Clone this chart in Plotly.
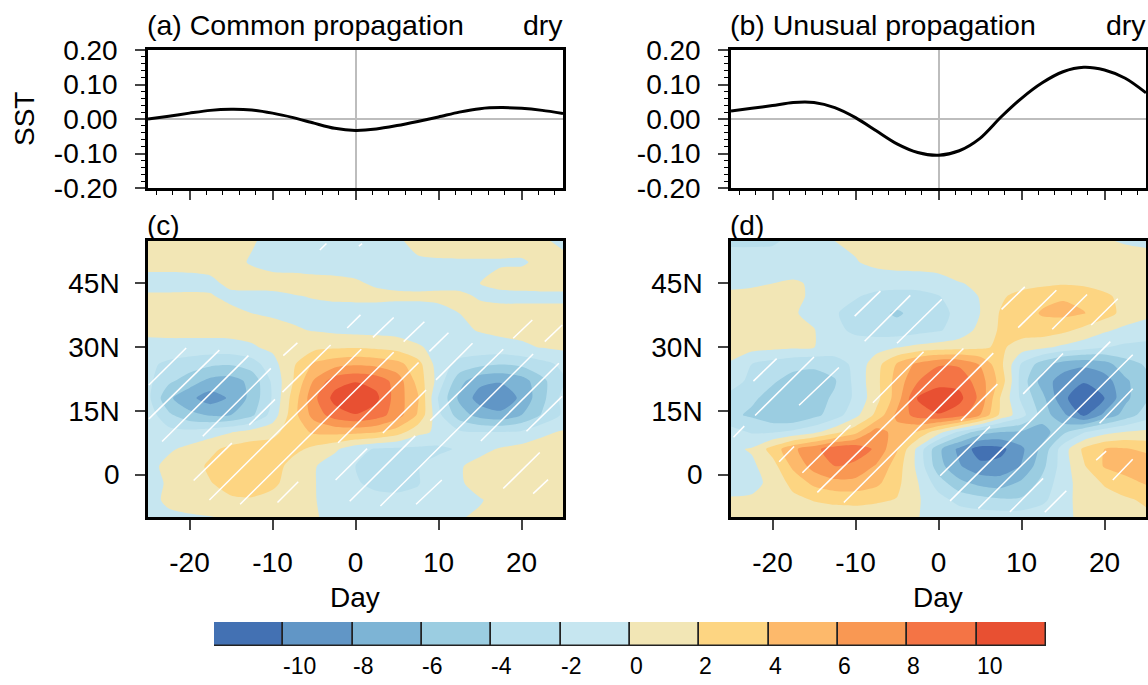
import plotly.graph_objects as go

W, H = 1148, 685
days = [-25+2.5*i for i in range(21)]
lats = [55, 50, 45, 42, 38, 34, 30, 26, 22, 18, 14, 10, 6, 2, -2, -6, -10]

sst_a = [0, .008, .017, .025, .028, .026, .017, .004, -.012, -.027, -.033, -.029, -.019, -.007, .006, .02, .03, .033, .031, .025, .016]
sst_b = [.023, .031, .039, .048, .048, .033, .004, -.034, -.072, -.097, -.105, -.092, -.056, .005, .06, .105, .137, .15, .142, .118, .076]

field_c = [
 [0.6,0.6,0.6,0.6,0.5,0.1,-0.3,-0.4,-0.5,-0.5,-0.4,-0.3,-0.1,0.2,0.4,0.5,0.5,0.5,0.4,0.2,-0.3],
 [0.6,0.6,0.6,0.5,0.3,-0.1,-0.5,-0.6,-0.7,-0.7,-0.7,-0.5,-0.3,-0.1,-0.1,-0.1,-0.1,-0.1,-0.1,0.2,0.4],
 [-0.7,-0.7,-0.6,-0.3,0.3,0.5,0.6,0.6,0.5,0.4,0.2,-0.2,-0.4,-0.5,-0.4,-0.3,0.0,0.3,0.4,0.5,0.5],
 [0.3,0.3,0.3,0.1,-0.3,-0.4,-0.4,-0.1,0.1,0.3,0.4,0.4,0.3,0.3,0.3,0.2,-0.1,-0.3,-0.3,-0.3,-0.3],
 [0.7,0.7,0.6,0.5,0.3,0.0,-0.2,-0.4,-0.5,-0.6,-0.7,-0.7,-0.7,-0.7,-0.4,0.0,0.3,0.4,0.4,0.4,0.4],
 [0.5,0.7,0.7,0.7,0.7,0.6,0.5,0.2,-0.1,-0.4,-0.6,-0.7,-0.8,-0.8,-0.7,-0.3,0.1,0.4,0.5,0.5,0.5],
 [-0.7,-0.8,-0.8,-0.8,-0.7,-0.2,0.4,0.9,1.4,1.7,1.8,1.6,1.2,0.2,-0.5,-0.8,-0.7,-0.6,-0.3,0.1,0.4],
 [-1.6,-2.4,-3.0,-3.6,-3.8,-3.0,-0.7,1.7,4.3,5.2,5.7,5.4,4.7,2.8,-1.0,-2.6,-3.4,-3.9,-3.5,-2.6,-1.6],
 [-1.5,-3.6,-5,-6.6,-6.9,-5.4,-1.6,2,6.2,9.2,9.9,9.3,7.2,3.3,-0.8,-5.3,-7.5,-7.8,-7.0,-4.5,-2.3],
 [-1.5,-5.6,-7.5,-9,-7.7,-5.4,-1.8,2.8,7.5,10.7,11.5,10.5,7,4.3,-2.2,-6.4,-8.9,-9.7,-7.5,-4.6,-1.4],
 [-0.8,-3.6,-5.4,-6.2,-6.0,-4.4,-1.2,3.2,6.8,9,9.9,9,7,3.8,-1.5,-5,-6.8,-7.4,-6,-3.8,-1.7],
 [-0.5,-1.3,-1.4,-0.9,-0.1,0.8,1.4,3,4.3,4.6,4.6,4.2,3,0.6,-0.4,-1.7,-2,-2,-1.7,-0.4,0.2],
 [-0.8,-0.3,0.5,1.5,2.6,3,3,2.6,1.5,0.4,-1.3,-2.2,-2.4,-2.4,-2.4,-1.8,-0.6,0.2,0.7,0.9,1],
 [-0.7,0.6,1,2.4,3.2,3.4,3,1.2,0.2,-1.2,-2,-2.6,-2.7,-2.1,-1.2,-0.2,0.7,0.9,1,1,1],
 [-0.6,0.2,1,1.9,2.8,3,2.4,1.2,0.1,-0.9,-1.8,-2.5,-2.5,-2.1,-1.2,-0.2,0.6,0.8,0.9,0.9,0.9],
 [-0.5,0.3,0.8,1.2,1.7,1.8,1.4,0.8,0.1,-0.7,-1.1,-1.4,-1.6,-1.6,-1.4,-0.9,-0.1,0.5,0.7,0.8,0.8],
 [-0.4,-0.3,-0.2,-0.05,0.2,0.3,0.3,0.25,0.1,-0.3,-0.6,-0.7,-0.8,-0.7,-0.5,-0.1,0.2,0.3,0.3,0.2,0.1],
]

field_d = [
 [-2.4,-2.4,-2.3,-1.5,-0.7,0.0,0.3,0.6,0.7,0.7,0.7,0.7,0.7,0.7,0.7,0.7,0.6,0.5,0.2,-0.2,-0.5],
 [-1,-1,-1,-0.9,-0.8,-0.5,-0.1,0.4,0.8,0.9,1,1.1,1.1,1,1,1.1,1.1,1,1,1,1],
 [-0.5,-0.3,0.0,0.2,-0.2,-0.4,-0.7,-1,-1.2,-1.2,-0.9,-0.1,0.3,0.6,1,1.5,1.8,1.6,1,0.6,0.5],
 [0.5,0.6,0.6,0.4,-0.3,-0.8,-1.8,-2.6,-2.8,-2.7,-2.1,-1,0.1,1.6,2.9,3.4,3.8,3.4,2.5,1.2,0.7],
 [0.7,0.8,0.7,0.2,-0.6,-1.8,-2.8,-3.4,-4.3,-3.3,-2.6,-1.5,0.0,2.2,3.1,4.2,4.5,4.1,2.9,1.3,0.5],
 [0.9,0.9,0.8,0.5,0.1,-1.5,-2.4,-2.8,-3.1,-2.7,-2.2,-1.2,0.6,2.3,3,3.1,2.5,1.4,0.3,-0.5,-0.9],
 [0.8,0.7,0.5,0.3,0.05,-0.8,-1,-0.8,-0.1,0.5,0.9,1.2,1.6,2.4,1.0,0.4,-0.4,-1.1,-1.9,-2.4,-2.6],
 [-0.2,-2,-2.8,-3.5,-3.6,-3,-1.5,1.2,4.2,6.5,7.8,7.7,5.9,2.5,-2.2,-5,-7,-7.6,-6.8,-4.8,-3.8],
 [-1,-2.6,-3.8,-4.6,-4.9,-4.2,-1.4,1.4,4.8,7.9,9.4,9.3,7,3.2,-2.8,-6.9,-9,-9.8,-9,-6.4,-4.5],
 [-2.8,-3.7,-4.6,-5.2,-4.8,-3.7,-1.6,1.3,5,10.2,11,10.6,7.5,1.8,-2.4,-5.4,-9.5,-11.6,-10,-6.5,-4.4],
 [-3.6,-4.3,-5.6,-6,-4.6,-3,-0.6,2.5,6.5,8.9,9.9,8.9,6,1.5,-1.2,-4.9,-7.5,-10.4,-7.5,-5.2,-3],
 [-1.2,-2.2,-2.2,-1.5,-0.5,1.3,3.4,7,5.2,3.8,0.8,-2.4,-5,-6,-6.3,-7,-4.5,-2.2,-0.7,0.1,0.4],
 [-0.4,0.2,2.8,5.6,7.4,9.2,9.4,7.6,4.2,-0.5,-5.5,-8.5,-11,-10.6,-8.4,-5.5,-1,2.4,4,4.2,3.5],
 [-0.8,-0.4,1.2,4.5,6.8,8,7.4,5.8,3,-0.5,-5.2,-7.8,-9.5,-9.3,-7.9,-4.6,-1,1.8,4.2,5,5.6],
 [-0.8,-0.8,0.7,2.6,4.5,5.4,5.4,4.5,2.5,0.1,-3,-5.4,-6.6,-7,-5.6,-3.4,-0.8,0.9,2.2,3.2,4.2],
 [0.2,0.4,1,1.5,2.1,2.4,2.5,2.3,1.9,0.2,-1.2,-2.6,-3.2,-3.7,-3.7,-2.5,-0.6,0.7,1.2,1.7,2.3],
 [0.5,0.6,0.7,0.8,0.9,1,1,0.8,0.4,0.05,-0.6,-0.9,-1,-1,-0.9,-0.7,-0.3,0.3,0.6,0.9,1.6],
]

hatch_c = [
 (-24.9,21.1,-20.4,29.8),(-24.9,13.1,-16.4,29.3),(-23.3,7.8,-12.9,28.0),(-18.4,9.0,-10.2,25.0),
 (-12.8,11.7,-9.7,17.7),(-19.5,-1.4,-14.9,7.4),(-17.6,-6.0,0.7,29.5),(-13.9,-7.0,4.6,28.8),
 (-9.4,-6.6,-6.9,-1.7),(-8.8,19.4,-3.0,30.5),(-8.7,28.0,-7.0,31.0),(-2.1,7.5,7.6,26.4),
 (3.3,9.8,8.5,19.9),(-2.4,-1.3,1.4,6.1),(-0.7,-6.3,7.2,9.1),(3.0,-7.4,21.4,28.4),
 (9.0,12.7,17.8,29.5),(15.1,7.9,24.5,26.2),(20.6,10.2,24.9,18.4),(9.7,22.3,14.1,30.9),
 (8.9,29.0,11.2,33.4),(5.8,31.3,8.3,36.0),(2.1,32.3,4.6,37.0),(-1.0,34.5,0.6,37.6),
 (19.0,32.1,21.3,36.4),(22.8,31.3,24.9,35.2),(7.3,-7.0,10.4,-1.3),(17.8,-3.3,22.2,5.2),
 (21.4,-4.5,23.2,-1.2),(-4.3,52.9,-3.5,54.4),(0.4,53.8,0.8,54.4),
]
hatch_d = [
 (-22.3,22.0,-19.5,27.3),(-22.1,13.9,-15.0,27.7),(-16.8,16.3,-12.0,25.2),(-24.7,8.8,-23.4,11.4),
 (-19.2,3.0,-17.4,6.6),(-16.4,0.4,-10.6,11.6),(-14.6,-4.2,3.0,29.7),(-11.4,-6.6,6.6,28.6),
 (-7.9,16.9,-1.8,28.9),(2.7,12.7,7.1,21.3),(-10.1,37.3,-7.0,43.2),(-8.9,31.4,-3.4,42.2),
 (-5.0,30.9,0.4,41.3),(7.6,38.9,10.4,44.2),(9.6,34.6,14.2,43.4),(13.7,34.2,17.9,42.4),
 (18.4,35.2,21.6,41.4),(10.2,19.0,15.0,28.5),(0.2,-0.3,6.2,11.3),(1.4,-6.2,20.7,31.3),
 (4.8,-8.0,23.4,28.2),(19.4,12.1,23.4,20.2),(8.6,-8.8,12.6,-0.9),(12.8,-8.9,15.4,-3.8),
 (19.0,3.4,20.2,5.5),(21.0,-1.3,23.4,3.6),
]

levels = [-10, -8, -6, -4, -2, 0, 2, 4, 6, 8, 10]
colors = ["#4371B3", "#6196C6", "#7DB4D5", "#9BCDE1", "#B8DFED", "#C6E6F0",
          "#F2E6B5", "#FDD582", "#FDB96B", "#F99853", "#F47445", "#E85032"]
centers = [-11, -9, -7, -5, -3, -1, 1, 3, 5, 7, 9, 11]

FONT = "Liberation Sans"
stepped = []
for i, c in enumerate(colors):
    stepped += [[i/12, c], [(i+1)/12, c]]


def dx(a, b):
    return [a/W, b/W]


def dy(top, bottom):
    return [1-bottom/H, 1-top/H]


def hatch(segs):
    xs, ys = [], []
    for x0, y0, x1, y1 in segs:
        xs += [x0, x1, None]
        ys += [y0, y1, None]
    return xs, ys


fig = go.Figure()
for sst, xa, ya in ((sst_a, "x", "y"), (sst_b, "x2", "y2")):
    fig.add_trace(go.Scatter(x=days, y=sst, mode="lines", xaxis=xa, yaxis=ya,
                             line=dict(color="black", width=3, shape="spline", smoothing=0.8), showlegend=False))
for field, segs, xa, ya in ((field_c, hatch_c, "x3", "y3"), (field_d, hatch_d, "x4", "y4")):
    fig.add_trace(go.Contour(x=days, y=lats, z=field, xaxis=xa, yaxis=ya, showscale=False,
                             colorscale=stepped, zmin=-12, zmax=12, autocontour=False,
                             contours=dict(start=-12, end=12, size=2, coloring="fill"),
                             line=dict(width=0, smoothing=0.7), hoverinfo="skip"))
    hx, hy = hatch(segs)
    fig.add_trace(go.Scatter(x=hx, y=hy, mode="lines", xaxis=xa, yaxis=ya,
                             line=dict(color="white", width=1.5), showlegend=False))
fig.add_trace(go.Bar(x=centers, y=[1]*12, width=2, marker=dict(color=colors, line=dict(color="#222", width=1.5)),
                     xaxis="x5", yaxis="y5", showlegend=False))

LEFT = (148, 563)
RIGHT = (731, 1146)
font = dict(family=FONT, size=28, color="black")
common = dict(showline=True, linecolor="black", linewidth=2.5, mirror=True, showgrid=False, tickfont=font,
              automargin=False)


def line_x(dom, anchor):
    return dict(domain=dx(*dom), anchor=anchor, range=[-25, 25], tickvals=[-20, -10, 0, 10, 20], showticklabels=False,
                ticks="outside", ticklen=9, tickwidth=2,
                minor=dict(dtick=2, tick0=0, ticks="outside", ticklen=4, tickwidth=1.3, tickcolor="black"),
                zeroline=True, zerolinecolor="#bdbdbd", zerolinewidth=1.5, **common)


def line_y(anchor):
    return dict(domain=dy(50, 188), anchor=anchor, range=[-.2, .2], tickvals=[-.2, -.1, 0, .1, .2],
                ticktext=["-0.20", "-0.10", "0.00", "0.10", "0.20"],
                ticks="outside", ticklen=10, tickwidth=2, ticklabelstandoff=12,
                minor=dict(dtick=.02, tick0=0, ticks="outside", ticklen=4, tickwidth=1.3, tickcolor="black"),
                zeroline=True, zerolinecolor="#bdbdbd", zerolinewidth=1.5, **common)


def cont_x(dom, anchor):
    return dict(domain=dx(*dom), anchor=anchor, range=[-25, 25], tickvals=[-20, -10, 0, 10, 20],
                ticktext=["-20", "-10", "0", "10", "20"], ticks="outside", ticklen=10, tickwidth=2,
                ticklabelstandoff=9, zeroline=False, **common)


def cont_y(anchor):
    return dict(domain=dy(241, 517), anchor=anchor, range=[-10, 55], tickvals=[0, 15, 30, 45],
                ticktext=["0", "15N", "30N", "45N"], ticks="outside", ticklen=10, tickwidth=2,
                ticklabelstandoff=10, zeroline=False, **common)


notes = []


def note(text, x, y, anchor="left", size=28, angle=0):
    notes.append(dict(text=text, x=x/W, y=1-y/H, xref="paper", yref="paper", showarrow=False, xanchor=anchor,
                      yanchor="middle", textangle=angle, font=dict(family=FONT, size=size, color="black")))


note("(a) Common propagation", 145, 25, size=28.5)
note("dry", 565, 25, "right", size=28.5)
note("(b) Unusual propagation", 728, 25, size=28.5)
note("dry", 1148, 25, "right", size=28.5)
note("(c)", 145, 226)
note("(d)", 728, 226)
note("Day", 355, 597, "center")
note("Day", 938, 597, "center")
note("SST", 25, 119, "center", angle=-90)
for lv in levels:
    notes.append(dict(text=str(lv), x=lv, y=0, xref="x5", yref="y5", showarrow=False, xanchor="left", yanchor="top",
                      xshift=-2, yshift=-5, font=dict(family=FONT, size=23, color="black")))

fig.update_layout(
    template="none",
    width=W, height=H, margin=dict(l=0, r=0, t=0, b=0), paper_bgcolor="white", plot_bgcolor="white",
    font=dict(family=FONT, color="black"), barmode="overlay", bargap=0, showlegend=False, annotations=notes,
    xaxis=line_x(LEFT, "y"), yaxis=line_y("x"),
    xaxis2=line_x(RIGHT, "y2"), yaxis2=line_y("x2"),
    xaxis3=cont_x(LEFT, "y3"), yaxis3=cont_y("x3"),
    xaxis4=cont_x(RIGHT, "y4"), yaxis4=cont_y("x4"),
    xaxis5=dict(domain=dx(214, 1046), anchor="y5", range=[-12, 12], showticklabels=False, ticks="", showgrid=False, zeroline=False, automargin=False),
    yaxis5=dict(domain=dy(622, 646), anchor="x5", range=[0, 1], showticklabels=False, ticks="", showgrid=False, zeroline=False, automargin=False),
)
fig.write_html("out.html", config=dict(displayModeBar=False),
               post_script="document.body.style.margin='0';document.body.style.overflow='hidden';")
